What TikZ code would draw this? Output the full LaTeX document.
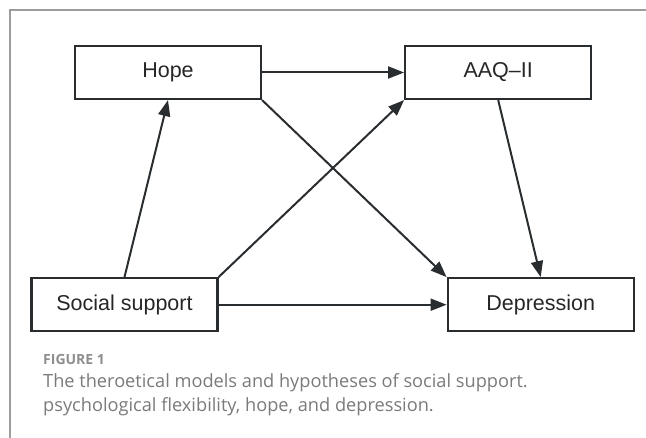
\documentclass[tikz,border=0pt]{standalone}
\usepackage{fontspec}
\setmainfont{Liberation Sans}
\newfontfamily\capfont{Open Sans}
\usepackage{xcolor}
\usetikzlibrary{arrows.meta,positioning}
\definecolor{BoxLine}{HTML}{2A2D30}
\definecolor{FrameGray}{HTML}{9C9C9C}
\definecolor{CaptionGray}{HTML}{7A7A7A}

\begin{document}
\begin{tikzpicture}[
  x=1pt, y=-1pt,
  box/.style={draw=BoxLine, line width=2.2pt, minimum width=186pt, minimum height=53pt,
    inner sep=0pt, font=\fontsize{21.5}{24}\selectfont, text=black!85},
  arrow/.style={-{Triangle[length=16pt,width=12pt]}, draw=BoxLine, line width=2pt},
  caption/.style={anchor=base west, inner sep=0pt, text=CaptionGray}
]
\useasboundingbox (0,0) rectangle (646,438);
% figure frame
\draw[FrameGray, line width=1.4pt] (10,438) -- (10,10) -- (646,10);

\node[box] (hope) at (168,72.5) {Hope};
\node[box, right=142pt of hope] (aaq) {AAQ--II};
\node[box, below=177pt of hope, xshift=-43.5pt] (ss) {Social support};
\node[box, right=228pt of ss] (dep) {Depression};

\draw[arrow] (hope) -- (aaq);
\draw[arrow] (ss.north) -- (hope.south);
\draw[arrow] (ss.north east) -- (aaq.south west);
\draw[arrow] (hope.south east) -- (dep.north west);
\draw[arrow] (ss) -- (dep);
\draw[arrow] (aaq.south) -- (dep.north);

% caption
\node[caption, font=\capfont\bfseries\fontsize{14}{16}\selectfont, text=CaptionGray!85] (figlabel) at (43,365) {FIGURE 1};
\node[caption, font=\capfont\fontsize{18.2}{24}\selectfont] (capone) at (43,388) {The theroetical models and hypotheses of social support.};
\node[caption, font=\capfont\fontsize{18.2}{24}\selectfont] (captwo) at (43,412) {psychological flexibility, hope, and depression.};
\end{tikzpicture}
\end{document}
